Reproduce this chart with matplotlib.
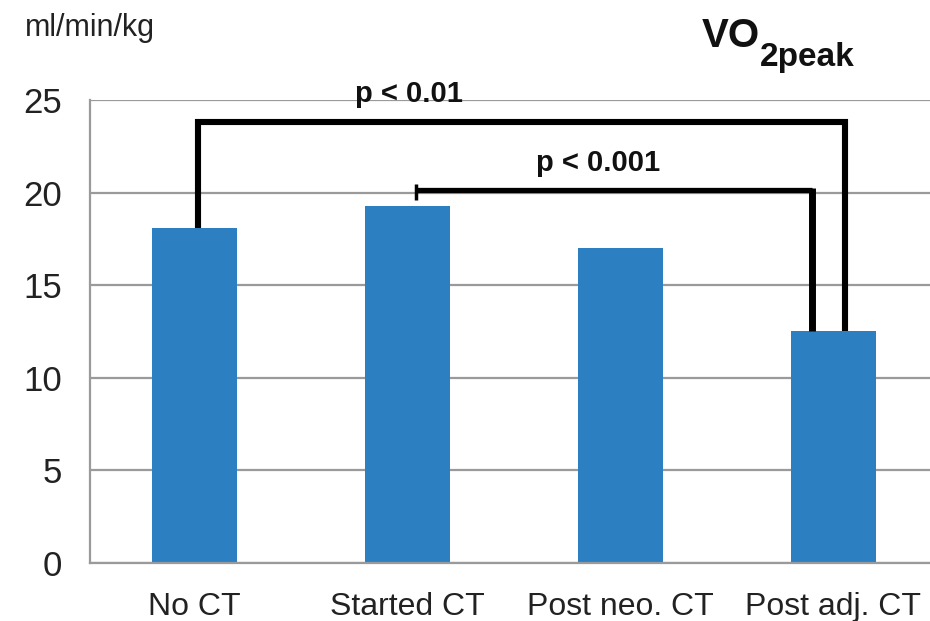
import matplotlib
matplotlib.use("Agg")
import matplotlib.pyplot as plt

plt.rcParams['font.family'] = ['Liberation Sans', 'DejaVu Sans']

groups = ["No CT", "Started CT", "Post neo. CT", "Post adj. CT"]
vo2peak = [18.1, 19.3, 17.0, 12.5]
y_ticks = [0, 5, 10, 15, 20, 25]

# significance brackets: (left group, right group, bracket height, label)
brackets = [
    (0, 3, 23.8, "p < 0.01"),
    (1, 3, 20.15, "p < 0.001"),
]

bar_color = "#2C7FC1"
grid_color = "#9a9a9a"

fig = plt.figure(figsize=(9.3, 6.21), dpi=100)
ax = fig.add_axes([0.0968, 0.0934, 0.9032, 0.7456])

x = list(range(len(groups)))
ax.bar(x, vo2peak, width=0.4, color=bar_color, zorder=2)

ax.set_xlim(-0.49, 3.455)
ax.set_ylim(0, 25)
ax.set_yticks(y_ticks)
ax.set_yticklabels([str(t) for t in y_ticks])
ax.set_xticks(x)
ax.set_xticklabels(groups)
ax.tick_params(axis='both', length=0, colors="#222222")
ax.tick_params(axis='x', pad=21, labelsize=23)
ax.tick_params(axis='y', pad=20, labelsize=25)

ax.grid(axis='y', color=grid_color, linewidth=1.6, zorder=0)
for s in ("top", "right"):
    ax.spines[s].set_visible(False)
ax.spines['left'].set_color(grid_color)
ax.spines['left'].set_linewidth(1.6)
ax.spines['bottom'].set_color(grid_color)
ax.spines['bottom'].set_linewidth(1.6)

# outer bracket: No CT vs Post adj. CT
l, r, h, lab = brackets[0]
xl, xr = l + 0.017, r + 0.056
ax.plot([xl, xl, xr, xr], [vo2peak[l], h, h, vo2peak[r]], color="black",
        linewidth=4.4, solid_joinstyle='miter', solid_capstyle='butt',
        zorder=3, clip_on=False)
ax.text(1.01, 25.3, lab, ha='center', va='center',
        fontsize=21, fontweight='bold', color="#111111")

# inner bracket: Started CT vs Post adj. CT
l, r, h, lab = brackets[1]
xl, xr = l + 0.04, r - 0.1
ax.plot([xl, xr], [h, h], color="black", linewidth=3.8,
        solid_capstyle='butt', zorder=3)
ax.plot([xl, xl], [h - 0.55, h + 0.3], color="black", linewidth=2.5,
        solid_capstyle='butt', zorder=3)
ax.plot([xr, xr], [vo2peak[r], h + 0.1], color="black", linewidth=5.0,
        solid_capstyle='butt', zorder=3)
ax.text(1.895, 21.6, lab, ha='center', va='center',
        fontsize=21, fontweight='bold', color="#111111")

# unit label and title
fig.text(25 / 930, 1 - 36 / 621, "ml/min/kg", ha='left', va='baseline',
         fontsize=22, color="#222222")
vo = fig.text(702 / 930, 1 - 47 / 621, "VO", ha='left', va='baseline',
              fontsize=29, fontweight='bold', color="#111111")
ax.annotate("2peak", xy=(1, 0), xycoords=vo, xytext=(0, -8),
            textcoords='offset points', ha='left', va='baseline',
            fontsize=24, fontweight='bold', color="#111111")

fig.savefig("out.png", dpi=100, facecolor="white")
